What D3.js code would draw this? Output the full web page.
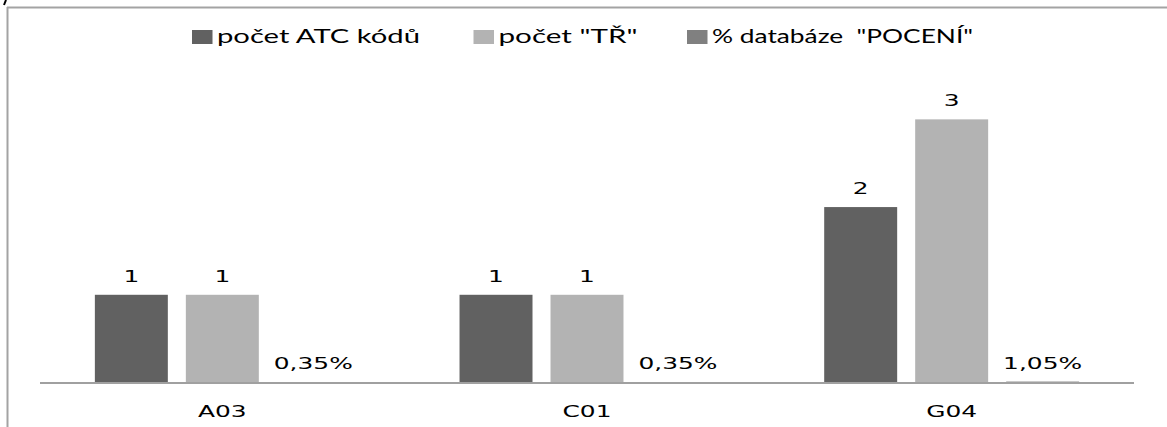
<!DOCTYPE html>
<html>
<head>
<meta charset="utf-8">
<script src="https://cdn.jsdelivr.net/npm/d3@7/dist/d3.min.js"></script>
<style>
  html, body { margin: 0; padding: 0; background: #fff; }
  svg { display: block; }
</style>
</head>
<body>
<svg id="chart" width="1167" height="427"></svg>
<script>
// ATC groups and the three measured series
const categories = ["A03", "C01", "G04"];
const seriesNames = ["počet ATC kódů", "počet \"TŘ\"", "% databáze  \"POCENÍ\""];
const atcCounts = [1, 1, 2];
const trCounts = [1, 1, 3];
const dbShare = [0.0035, 0.0035, 0.0105];
const countLabels = ["1", "1", "2"];
const trLabels = ["1", "1", "3"];
const shareLabels = ["0,35%", "0,35%", "1,05%"];

const colors = ["#616161", "#b3b3b3", "#808080"];

const W = 1167, H = 427;
const svg = d3.select("#chart");

// chart frame: top and left edges only
svg.append("line").attr("x1", 7).attr("x2", W).attr("y1", 7.5).attr("y2", 7.5)
  .attr("stroke", "#a3a3a3").attr("stroke-width", 2);
svg.append("line").attr("x1", 7.5).attr("x2", 7.5).attr("y1", 7).attr("y2", H)
  .attr("stroke", "#a3a3a3").attr("stroke-width", 2);
svg.append("line").attr("x1", 6).attr("x2", 4).attr("y1", 0).attr("y2", 5)
  .attr("stroke", "#000").attr("stroke-width", 2);

const plot = { left: 40, right: 1134, top: 75.5, bottom: 382.5 };

const x0 = d3.scaleBand().domain(categories).range([plot.left, plot.right]).padding(0);
const x1 = d3.scaleBand().domain(d3.range(3)).range([0, x0.bandwidth()])
  .paddingInner(0.198).paddingOuter(0.603);
const y = d3.scaleLinear().domain([0, 3.5]).range([plot.bottom, plot.top]);

const rows = categories.map((c, i) => ({
  cat: c,
  vals: [atcCounts[i], trCounts[i], dbShare[i]],
  labels: [countLabels[i], trLabels[i], shareLabels[i]]
}));

const LABEL_FONT = "'DejaVu Sans', Verdana, sans-serif";
const SX = 1.66; // horizontal stretch of the lettering

function stretchedText(g, x, yy, txt, size, family, anchor, sx) {
  return g.append("text")
    .attr("transform", `translate(${x},${yy}) scale(${sx},1)`)
    .attr("text-anchor", anchor)
    .attr("font-family", family)
    .attr("font-size", size)
    .attr("fill", "#000")
    .text(txt);
}

const groups = svg.selectAll("g.grp").data(rows).join("g")
  .attr("class", "grp")
  .attr("transform", d => `translate(${x0(d.cat)},0)`);

groups.each(function(d) {
  const g = d3.select(this);
  d.vals.forEach((v, k) => {
    const h = y(0) - y(v);
    g.append("rect")
      .attr("x", x1(k)).attr("width", x1.bandwidth())
      .attr("y", y(v)).attr("height", Math.max(h, 0))
      .attr("fill", colors[k]);
  });
});

// category axis line
svg.append("line")
  .attr("x1", plot.left).attr("x2", plot.right)
  .attr("y1", y(0) + 0.5).attr("y2", y(0) + 0.5)
  .attr("stroke", "#a0a0a0").attr("stroke-width", 2);

// value labels
groups.each(function(d) {
  const g = d3.select(this);
  d.vals.forEach((v, k) => {
    stretchedText(g, x1(k) + x1.bandwidth() / 2, y(v) - 13, d.labels[k], 15, LABEL_FONT, "middle", SX);
  });
});

// category labels
categories.forEach(c => {
  stretchedText(svg, x0(c) + x0.bandwidth() / 2, 416.5, c, 15, LABEL_FONT, "middle", SX);
});

// legend: wide swatches and stretched lettering
const legendX = [192, 473.5, 687];
const legendTextW = [203, 139, 261];
const LEG_FONT = "Lato, 'Open Sans', sans-serif";
seriesNames.forEach((name, k) => {
  svg.append("rect").attr("x", legendX[k]).attr("y", 30).attr("width", 20.5).attr("height", 14)
    .attr("fill", colors[k]);
  svg.append("text")
    .attr("x", legendX[k] + 25).attr("y", 42.5)
    .attr("font-family", LEG_FONT).attr("font-size", 18.5)
    .attr("fill", "#000")
    .attr("textLength", legendTextW[k])
    .attr("lengthAdjust", "spacingAndGlyphs")
    .style("white-space", "pre")
    .text(name);
});
</script>
</body>
</html>
